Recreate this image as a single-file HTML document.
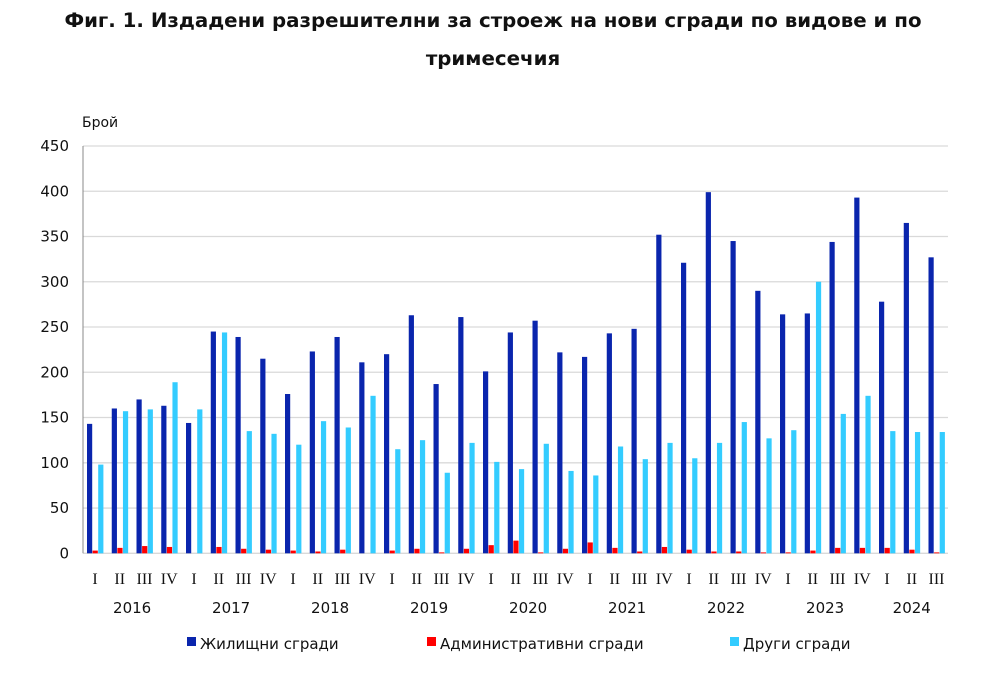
<!DOCTYPE html>
<html><head><meta charset="utf-8"><style>
body{margin:0;background:#fff;width:1000px;height:673px;overflow:hidden}
svg{display:block}
</style></head><body>
<svg id="c" width="1000" height="673" font-family="'DejaVu Sans','Liberation Sans',sans-serif">
<text x="493" y="27" text-anchor="middle" font-size="19.8" font-weight="bold" fill="#111">Фиг. 1. Издадени разрешителни за строеж на нови сгради по видове и по</text>
<text x="493" y="65" text-anchor="middle" font-size="19.8" font-weight="bold" fill="#111">тримесечия</text>
<text x="82" y="127" font-size="14" fill="#111">Брой</text>
<g id="grid"></g><g id="bars"></g><g id="xl"></g>
<g font-size="15" fill="#111">
<rect x="187" y="637" width="9" height="9" fill="#0a25ad"/>
<text x="200" y="649">Жилищни сгради</text>
<rect x="427" y="637" width="9" height="9" fill="#ff0000"/>
<text x="440" y="649">Административни сгради</text>
<rect x="730" y="637" width="9" height="9" fill="#33ccff"/>
<text x="743" y="649">Други сгради</text>
</g>
</svg>
<script>
const years=["2016","2017","2018","2019","2020","2021","2022","2023","2024"];
const quarters=["I","II","III","IV"];
const residential=[143,160,170,163,144,245,239,215,176,223,239,211,220,263,187,261,201,244,257,222,217,243,248,352,321,399,345,290,264,265,344,393,278,365,327];
const administrative=[3,6,8,7,0,7,5,4,3,2,4,0,3,5,1,5,9,14,1,5,12,6,2,7,4,2,2,1,1,3,6,6,6,4,1];
const other=[98,157,159,189,159,244,135,132,120,146,139,174,115,125,89,122,101,93,121,91,86,118,104,122,105,122,145,127,136,300,154,174,135,134,134];
const yTicks=[0,50,100,150,200,250,300,350,400,450];
const NS="http://www.w3.org/2000/svg";
const x0=83,x1=948,y0=553.3,yTop=146,vmax=450,pitch=24.75,bw=5.6;
const y=v=>y0-(y0-yTop)*v/vmax;
const gx=i=>x0+4+pitch*i;
function el(t,a,p){const e=document.createElementNS(NS,t);for(const k in a)e.setAttribute(k,a[k]);p.appendChild(e);return e;}
const grid=document.getElementById('grid'),bars=document.getElementById('bars'),xl=document.getElementById('xl');
yTicks.forEach(v=>{
 const l=el('line',{x1:x0,x2:x1,y1:y(v),y2:y(v),stroke:'#d9d9d9','stroke-width':1.3},grid);
 
 
 const t=el('text',{x:69,y:y(v)+5,'text-anchor':'end','font-size':15,fill:'#111'},grid);
 t.textContent=v;
 
 
});
const ax=el('line',{x1:x0,x2:x0,y1:yTop,y2:y0,stroke:'#888','stroke-width':1},grid);


const series=[[residential,'#0a25ad','residential'],[administrative,'#ff0000','administrative'],[other,'#33ccff','other']];
residential.forEach((_,i)=>{
 series.forEach((s,j)=>{
  const v=s[0][i];
  const r=el('rect',{x:gx(i)+j*bw,y:y(v),width:bw-0.4,height:y0-y(v),fill:s[1]},bars);
  
  
 });
 const t=el('text',{x:gx(i)+8,y:584,'text-anchor':'middle','font-size':16,fill:'#111','font-family':"'Liberation Serif',serif"},xl);
 t.textContent=quarters[i%4];
 
 
});
years.forEach((yr,k)=>{
 const n=Math.min(4,residential.length-k*4);
 const cx=(gx(k*4)+gx(k*4+n-1))/2+8;
 const t=el('text',{x:cx,y:613,'text-anchor':'middle','font-size':15,fill:'#111'},xl);
 t.textContent=yr;
 
 
});
</script>
</body></html>
